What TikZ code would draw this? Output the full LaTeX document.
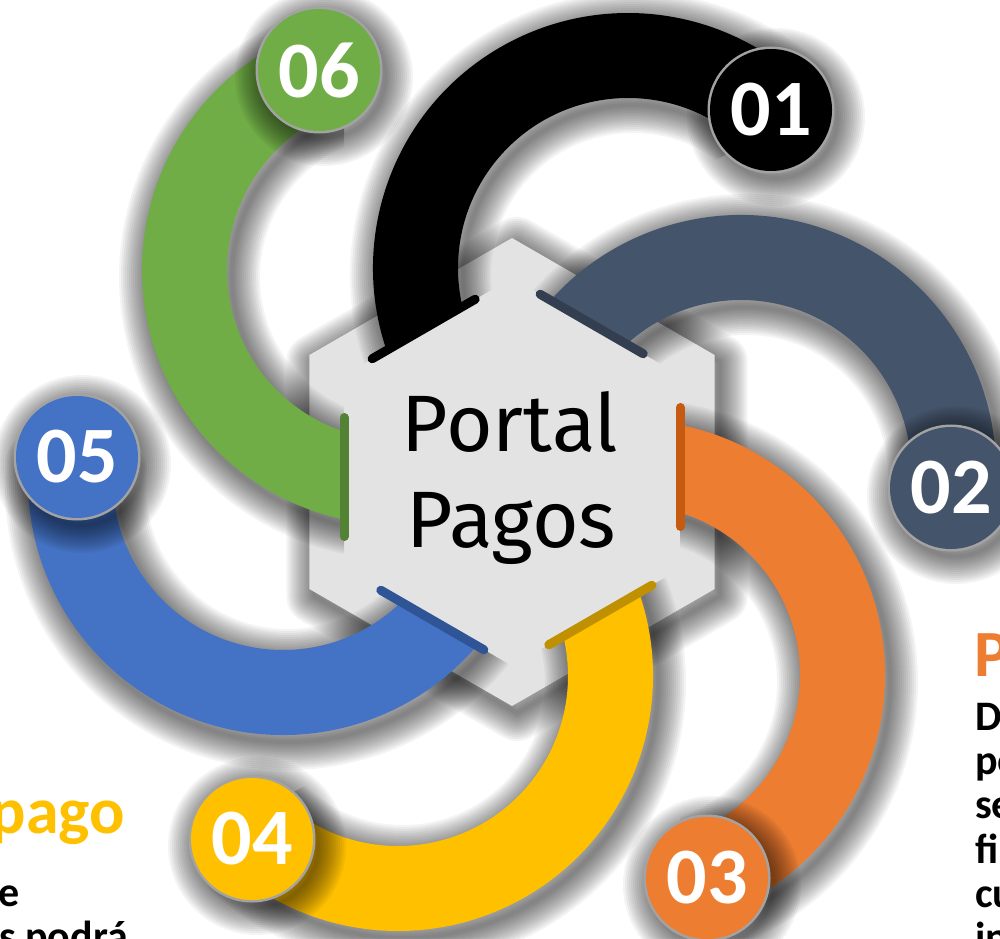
\documentclass[tikz,border=0pt]{standalone}
\usepackage{fontspec}
\setmainfont{Carlito}
\newfontfamily\portalfont{Fira Sans}
\usetikzlibrary{calc}
\definecolor{cBlack}{HTML}{000000}
\definecolor{cSlate}{HTML}{44546A}
\definecolor{cOrange}{HTML}{ED7D31}
\definecolor{cYellow}{HTML}{FFC000}
\definecolor{cBlue}{HTML}{4472C4}
\definecolor{cGreen}{HTML}{70AD47}
\definecolor{mBlack}{HTML}{000000}
\definecolor{mSlate}{HTML}{333F50}
\definecolor{mOrange}{HTML}{C55A11}
\definecolor{mYellow}{HTML}{BF9000}
\definecolor{mBlue}{HTML}{2F5597}
\definecolor{mGreen}{HTML}{548235}
\definecolor{hexc}{HTML}{E3E3E3}
\definecolor{ringc}{HTML}{A3A3A3}
\definecolor{shadowc}{HTML}{000000}

\newcommand{\softshadow}[1]{%
  \begin{scope}[xshift=5pt,yshift=-7pt]
    \foreach \w in {56,52,48,44,40,36,32,28,24,20,16,12,8,4}{\draw[shadowline,line width=\w pt] #1;}
  \end{scope}}

% #1 colour, #2 #3 arc centre, #4 start angle, #5 end angle, #6 edge normal
\newcommand{\band}[6]{%
  \begin{scope}
    \clip ($(H)+(#6:168)+(#6+90:1200)$) -- ($(H)+(#6:168)+(#6-90:1200)$)
       -- ($(H)+(#6:1400)+(#6-90:1200)$) -- ($(H)+(#6:1400)+(#6+90:1200)$) -- cycle;
    \softshadow{(#2,#3) ++(#4:255) arc[start angle=#4, end angle=#5, radius=255]
       -- ($(#2,#3)+(#5:170)$) arc[start angle=#5, end angle=#4, radius=170] -- cycle}
    \fill[#1] (#2,#3) ++(#4:255) arc[start angle=#4, end angle=#5, radius=255]
       -- ($(#2,#3)+(#5:170)$) arc[start angle=#5, end angle=#4, radius=170] -- cycle;
  \end{scope}}

\newcommand{\edgemark}[2]{%
  \draw[markerline,#1] ($(H)+(#2:168)+(#2+90:64.5)$) -- ($(H)+(#2:168)+(#2-90:54.5)$);}

\newcommand{\numdisc}[4]{%
  \softshadow{(#2) circle[radius=61]}
  \fill[ringc] (#2) circle[radius=63.5];
  \node[numcircle,fill=#1] (#4) at (#2) {#3};}

\begin{document}
\begin{tikzpicture}[x=1pt,y=1pt,
  shadowline/.style={draw=shadowc,opacity=0.045,line join=round},
  markerline/.style={line width=9pt,line cap=round},
  numcircle/.style={circle,minimum size=122pt,inner sep=0pt,text=white,
    font=\fontsize{80}{80}\selectfont\bfseries},
  headtext/.style={inner sep=0pt,font=\fontsize{66}{66}\selectfont\bfseries},
  bodytext/.style={inner sep=0pt,font=\fontsize{42}{44}\selectfont\bfseries},
  titletext/.style={inner sep=0pt,font=\portalfont\fontsize{80}{95}\selectfont}]
\clip (0,0) rectangle (1000,938);
\fill[white] (0,0) rectangle (1000,938);
\coordinate (H) at (512,466);

% hexagon
\softshadow{(714.65,583) -- (512,700) -- (309.35,583) -- (309.35,349) -- (512,232) -- (714.65,349) -- cycle}
\fill[hexc] (714.65,583) -- (512,700) -- (309.35,583) -- (309.35,349) -- (512,232) -- (714.65,349) -- cycle;

% bands
\band{cBlack}{628}{670}{210}{47.9}{120}
\band{cSlate}{741}{468}{157.1}{-4.9}{60}
\band{cOrange}{630}{263}{92.8}{-69.2}{0}
\band{cYellow}{398}{262}{30.1}{-131.9}{-60}
\band{cBlue}{283}{458}{336.2}{174.2}{-120}
\band{cGreen}{397}{668}{273.3}{111.3}{180}

% markers on the hexagon edges
\edgemark{mBlack}{120}
\edgemark{mSlate}{60}
\edgemark{mOrange}{0}
\edgemark{mYellow}{-60}
\edgemark{mBlue}{-120}
\edgemark{mGreen}{180}

% numbered discs
\numdisc{cBlack}{771,828}{01}{n01}
\numdisc{cSlate}{951,450}{02}{n02}
\numdisc{cOrange}{707,60}{03}{n03}
\numdisc{cYellow}{252,99}{04}{n04}
\numdisc{cBlue}{77,481}{05}{n05}
\numdisc{cGreen}{319,868}{06}{n06}

% title
\node[titletext,anchor=base] (t1) at (510,486) {Portal};
\node[titletext,anchor=base] (t2) at (511.5,391) {Pagos};

% left text
\node[headtext,text=cYellow,anchor=base east] (hl) at (125,105) {pago};
\node[bodytext,anchor=base east] (l1) at (20,32) {e};
\node[bodytext,anchor=base east] (l2) at (128,-12) {s podrá};

% right text
\node[headtext,text=cOrange,anchor=base west] (hr) at (974,262) {P};
\node[bodytext,anchor=base west] (r1) at (975,208) {D};
\node[bodytext,anchor=base west] (r2) at (975,164) {po};
\node[bodytext,anchor=base west] (r3) at (975,120) {se};
\node[bodytext,anchor=base west] (r4) at (975,75) {fi};
\node[bodytext,anchor=base west] (r5) at (975,31) {cu};
\node[bodytext,anchor=base west] (r6) at (975,-13) {in};
\end{tikzpicture}
\end{document}
